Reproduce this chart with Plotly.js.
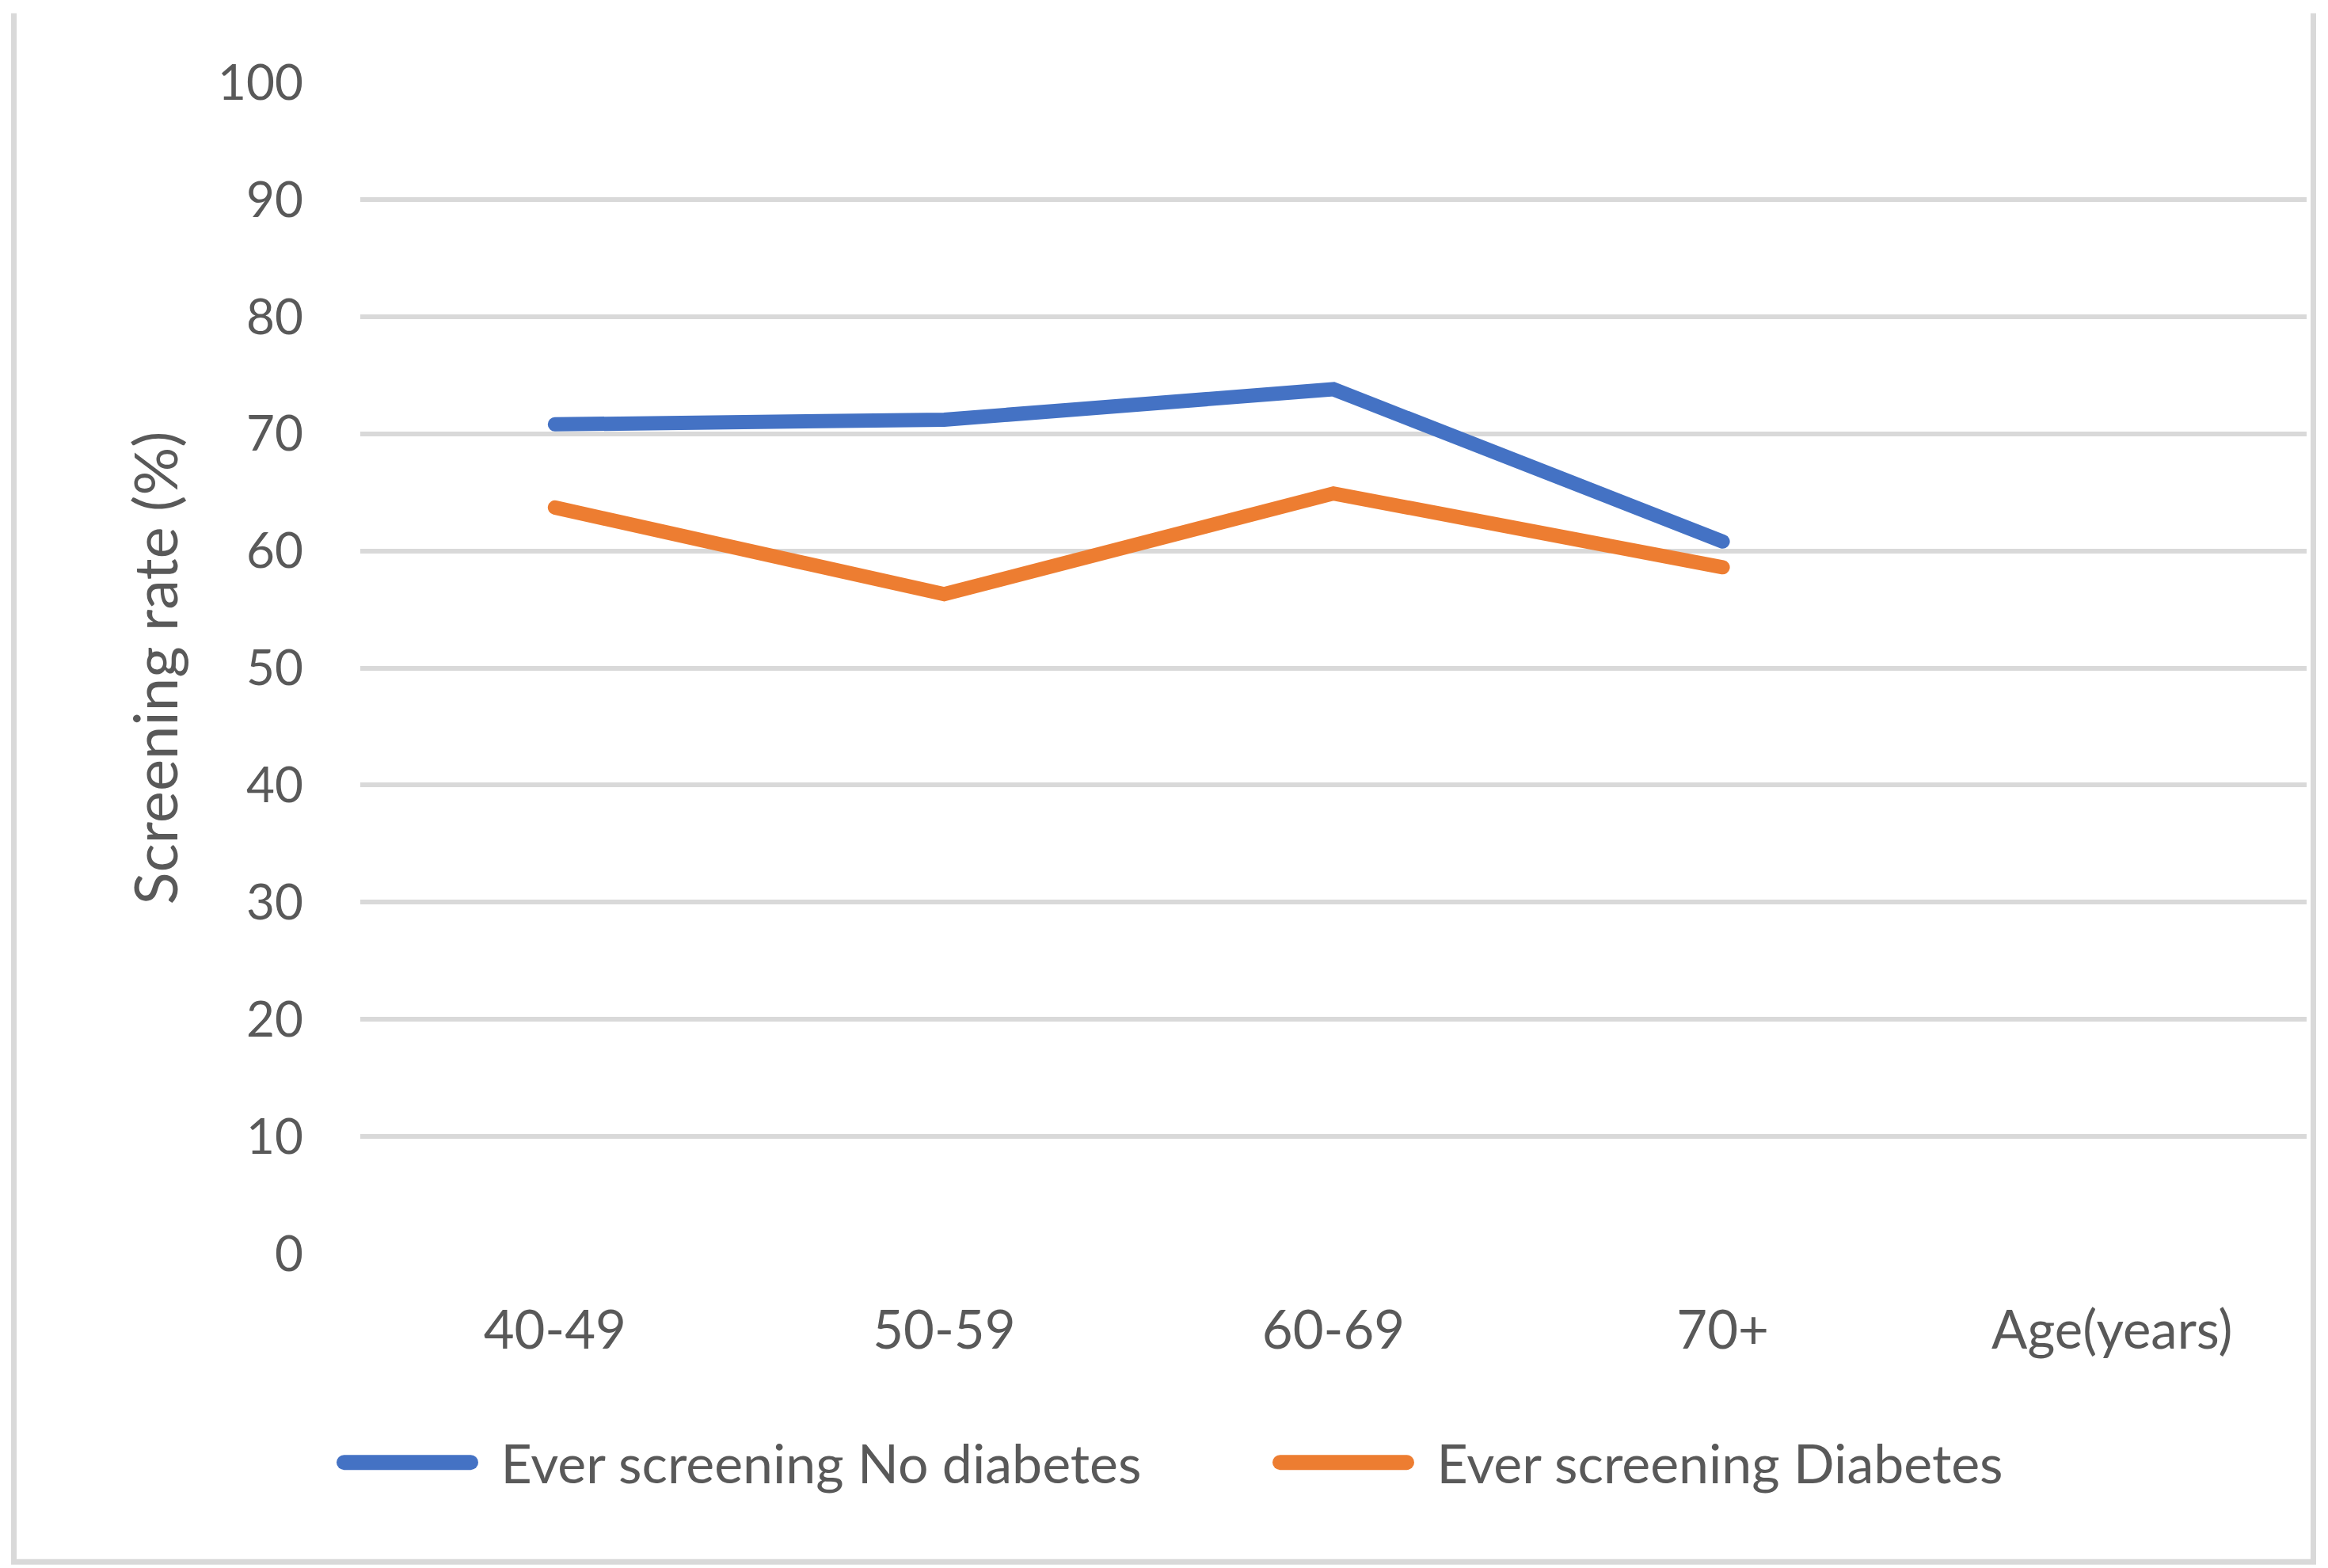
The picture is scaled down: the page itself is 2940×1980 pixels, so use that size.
<!DOCTYPE html>
<html>
<head>
<meta charset="utf-8">
<script src="https://cdn.plot.ly/plotly-3.0.1.min.js"></script>
<style>
  html, body { margin: 0; padding: 0; background: #fff; }
  #chart { width: 2940px; height: 1980px; }
  .js-line { stroke-linecap: round; }
  /* thick legend keys with a gap before the label, like the office chart */
  .legend .js-line { stroke-width: 19px !important; transform: translateX(5px); }
  .legend .legendtext { transform: translateX(38px); }
</style>
</head>
<body>
<div id="chart"></div>
<script>
// age bands; the last one only carries the axis name, like in the original sheet
const ageGroups = ['40-49', '50-59', '60-69', '70+', 'Age(years)']
const noDiabetes = [70.8, 71.2, 73.8, 60.8]
const withDiabetes = [63.7, 56.3, 64.9, 58.6]
const seriesNames = ['Ever screening No diabetes', 'Ever screening Diabetes']
const yTicks = [0, 10, 20, 30, 40, 50, 60, 70, 80, 90, 100]

const textColor = '#595959'
const gridColor = '#d9d9d9'
const font = 'Lato, "Open Sans", sans-serif'

const data = [
  {
    x: ageGroups.slice(0, noDiabetes.length),
    y: noDiabetes,
    name: seriesNames[0],
    type: 'scatter',
    mode: 'lines',
    line: { color: '#4472c4', width: 18 },
  },
  {
    x: ageGroups.slice(0, withDiabetes.length),
    y: withDiabetes,
    name: seriesNames[1],
    type: 'scatter',
    mode: 'lines',
    line: { color: '#ed7d31', width: 18 },
  },
]

const layout = {
  width: 2940,
  height: 1980,
  margin: { l: 455, r: 27, t: 103.5, b: 396.5 },
  paper_bgcolor: 'white',
  plot_bgcolor: 'white',
  font: { family: font, size: 62, color: textColor },
  showlegend: true,
  xaxis: {
    type: 'category',
    categoryorder: 'array',
    categoryarray: ageGroups,
    tickvals: ageGroups,
    range: [-0.5, ageGroups.length - 0.5],
    showgrid: false,
    zeroline: false,
    showline: false,
    ticks: '',
    ticklabelstandoff: 52,
    tickfont: { family: font, size: 67, color: textColor },
    fixedrange: true,
  },
  yaxis: {
    range: [0, 100],
    tickvals: yTicks,
    showgrid: true,
    gridcolor: gridColor,
    gridwidth: 6,
    zeroline: false,
    showline: false,
    ticks: '',
    ticklabelstandoff: 71,
    tickfont: { family: font, size: 62, color: textColor },
    title: { text: 'Screening rate (%)', standoff: 25, font: { family: font, size: 76, color: textColor } },
    fixedrange: true,
  },
  legend: {
    orientation: 'h',
    xref: 'container',
    yref: 'container',
    x: 424.5 / 2940,
    xanchor: 'left',
    y: 0.0672,
    yanchor: 'middle',
    itemwidth: 160,
    entrywidth: 1007,
    font: { family: font, size: 68, color: textColor },
    bgcolor: 'rgba(0,0,0,0)',
  },
  // chart frame: no top edge, as in the original picture
  shapes: [
    {
      type: 'path',
      xref: 'paper',
      yref: 'paper',
      path: 'M -0.178 1.059 L -0.178 -0.2632 L 1.00346 -0.2632 L 1.00346 1.059',
      line: { color: gridColor, width: 7 },
      layer: 'below',
    },
  ],
}

const config = {
  displayModeBar: false,
  responsive: false,
  staticPlot: true,
}

Plotly.newPlot('chart', data, layout, config)
</script>
</body>
</html>
